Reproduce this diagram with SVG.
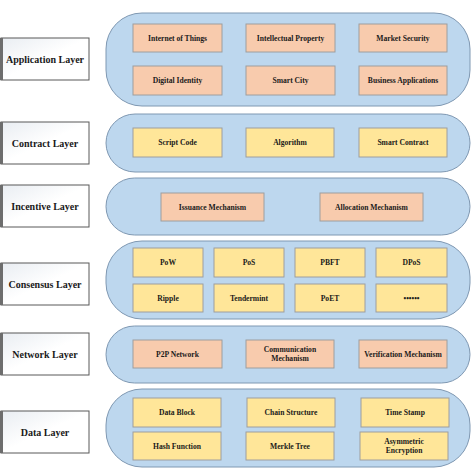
<svg xmlns="http://www.w3.org/2000/svg" width="474" height="474" viewBox="0 0 474 474">
<defs>
<linearGradient id="lg" x1="0" y1="0" x2="1" y2="1">
<stop offset="0" stop-color="#e9edf2"/>
<stop offset="0.5" stop-color="#ffffff"/>
<stop offset="1" stop-color="#ffffff"/>
</linearGradient>
</defs>
<style>
.lab rect{fill:url(#lg);stroke:#595959;stroke-width:1}
.lab line{stroke:#6d6d6d;stroke-width:3}
.lab text{font-family:"Liberation Serif",serif;font-weight:bold;font-size:10px;fill:#1a1a1a;text-anchor:middle}
.pill{fill:#bdd7ee;stroke:#7f98b2;stroke-width:1}
.o{fill:#f8cbad;stroke:#9e9e9e;stroke-width:1}
.y{fill:#ffe699;stroke:#9e9e9e;stroke-width:1}
.t{font-family:"Liberation Serif",serif;font-weight:bold;font-size:7.6px;fill:#1a1a1a;text-anchor:middle}
</style>
<rect width="474" height="474" fill="#ffffff"/>

<g id="application-layer">
<g class="lab"><rect x="1" y="38" width="88" height="42"/><line x1="1.5" y1="38" x2="1.5" y2="80"/><text x="45" y="62.5">Application Layer</text></g>
<rect class="pill" x="106" y="13" width="364" height="93" rx="36" ry="36"/>
<g id="app-iot"><rect class="o" x="133" y="24" width="89" height="28"/><text class="t" x="177.5" y="40.5">Internet of Things</text></g>
<g id="app-ip"><rect class="o" x="246" y="24" width="89" height="28"/><text class="t" x="290.5" y="40.5">Intellectual Property</text></g>
<g id="app-ms"><rect class="o" x="359" y="24" width="88" height="28"/><text class="t" x="403" y="40.5">Market Security</text></g>
<g id="app-di"><rect class="o" x="133" y="66" width="89" height="29"/><text class="t" x="177.5" y="83">Digital Identity</text></g>
<g id="app-sc"><rect class="o" x="246" y="66" width="89" height="29"/><text class="t" x="290.5" y="83">Smart City</text></g>
<g id="app-ba"><rect class="o" x="359" y="66" width="88" height="29"/><text class="t" x="403" y="83">Business Applications</text></g>
</g>

<g id="contract-layer">
<g class="lab"><rect x="1" y="122" width="88" height="42"/><line x1="1.5" y1="122" x2="1.5" y2="164"/><text x="45" y="146.5">Contract Layer</text></g>
<rect class="pill" x="106" y="114" width="364" height="58" rx="29" ry="29"/>
<g id="con-script"><rect class="y" x="133" y="128" width="89" height="29"/><text class="t" x="177.5" y="145">Script Code</text></g>
<g id="con-alg"><rect class="y" x="246" y="128" width="88" height="29"/><text class="t" x="290" y="145">Algorithm</text></g>
<g id="con-sc"><rect class="y" x="359" y="128" width="88" height="29"/><text class="t" x="403" y="145">Smart Contract</text></g>
</g>

<g id="incentive-layer">
<g class="lab"><rect x="1" y="185" width="88" height="42"/><line x1="1.5" y1="185" x2="1.5" y2="227"/><text x="45" y="209.5">Incentive Layer</text></g>
<rect class="pill" x="106" y="178" width="364" height="57" rx="28.5" ry="28.5"/>
<g id="inc-iss"><rect class="o" x="161" y="193" width="103" height="28"/><text class="t" x="212.5" y="209.5">Issuance Mechanism</text></g>
<g id="inc-all"><rect class="o" x="320" y="193" width="103" height="28"/><text class="t" x="371.5" y="209.5">Allocation Mechanism</text></g>
</g>

<g id="consensus-layer">
<g class="lab"><rect x="1" y="263" width="88" height="42"/><line x1="1.5" y1="263" x2="1.5" y2="305"/><text x="45" y="287.5">Consensus Layer</text></g>
<rect class="pill" x="106" y="241" width="364" height="78" rx="36" ry="36"/>
<g id="cs-pow"><rect class="y" x="133" y="248" width="70" height="29"/><text class="t" x="168" y="265">PoW</text></g>
<g id="cs-pos"><rect class="y" x="214" y="248" width="70" height="29"/><text class="t" x="249" y="265">PoS</text></g>
<g id="cs-pbft"><rect class="y" x="295" y="248" width="70" height="29"/><text class="t" x="330" y="265">PBFT</text></g>
<g id="cs-dpos"><rect class="y" x="376" y="248" width="71" height="29"/><text class="t" x="411.5" y="265">DPoS</text></g>
<g id="cs-ripple"><rect class="y" x="133" y="284" width="70" height="28"/><text class="t" x="168" y="300.5">Ripple</text></g>
<g id="cs-tend"><rect class="y" x="214" y="284" width="70" height="28"/><text class="t" x="249" y="300.5">Tendermint</text></g>
<g id="cs-poet"><rect class="y" x="295" y="284" width="70" height="28"/><text class="t" x="330" y="300.5">PoET</text></g>
<g id="cs-more"><rect class="y" x="376" y="284" width="71" height="28"/><text class="t" x="411.5" y="300.5">••••••</text></g>
</g>

<g id="network-layer">
<g class="lab"><rect x="1" y="333" width="88" height="42"/><line x1="1.5" y1="333" x2="1.5" y2="375"/><text x="45" y="357.5">Network Layer</text></g>
<rect class="pill" x="106" y="326" width="364" height="57" rx="28.5" ry="28.5"/>
<g id="net-p2p"><rect class="o" x="133" y="340" width="89" height="28"/><text class="t" x="177.5" y="356.5">P2P Network</text></g>
<g id="net-comm"><rect class="o" x="246" y="340" width="88" height="28"/><text class="t" x="290" y="352">Communication</text><text class="t" x="290" y="361">Mechanism</text></g>
<g id="net-ver"><rect class="o" x="359" y="340" width="88" height="28"/><text class="t" x="403" y="356.5">Verification Mechanism</text></g>
</g>

<g id="data-layer">
<g class="lab"><rect x="1" y="411" width="88" height="42"/><line x1="1.5" y1="411" x2="1.5" y2="453"/><text x="45" y="435.5">Data Layer</text></g>
<rect class="pill" x="106" y="389" width="364" height="78" rx="36" ry="36"/>
<g id="dat-block"><rect class="y" x="133" y="398" width="88" height="29"/><text class="t" x="177" y="415">Data Block</text></g>
<g id="dat-chain"><rect class="y" x="247" y="398" width="88" height="29"/><text class="t" x="291" y="415">Chain Structure</text></g>
<g id="dat-ts"><rect class="y" x="361" y="398" width="88" height="29"/><text class="t" x="405" y="415">Time Stamp</text></g>
<g id="dat-hash"><rect class="y" x="133" y="432" width="88" height="28"/><text class="t" x="177" y="448.5">Hash Function</text></g>
<g id="dat-merkle"><rect class="y" x="246" y="432" width="88" height="28"/><text class="t" x="290" y="448.5">Merkle Tree</text></g>
<g id="dat-asym"><rect class="y" x="360" y="432" width="88" height="28"/><text class="t" x="404" y="444">Asymmetric</text><text class="t" x="404" y="453">Encryption</text></g>
</g>

<g id="connectors"/>
</svg>
